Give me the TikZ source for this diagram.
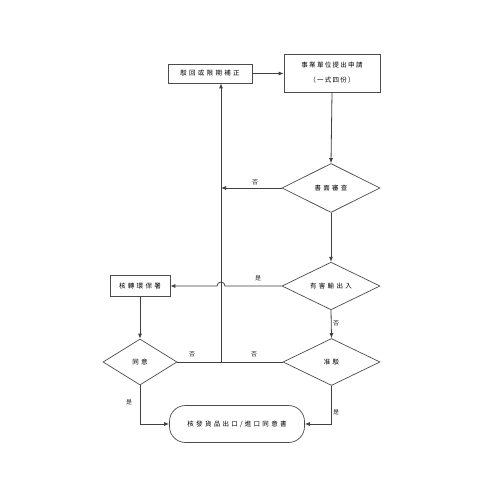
\documentclass[tikz,border=0pt]{standalone}
\usepackage{fontspec}
\newfontfamily\cjk[LetterSpace=35]{Noto Sans CJK TC}
\newfontfamily\cjktight[LetterSpace=20]{Noto Sans CJK TC}
\usetikzlibrary{arrows.meta,shapes.geometric}
\tikzset{
  ln/.style={draw=black!75, line width=0.8pt},
  arr/.style={ln, -{Latex[length=5pt,width=4pt]}},
  box/.style={draw=black!70, line width=0.7pt, rectangle, inner sep=0pt, align=center,
    font=\cjk\fontsize{6.5}{8}\selectfont},
  dia/.style={draw=black!70, line width=0.7pt, diamond, inner sep=0pt, align=center,
    font=\cjk\fontsize{6.5}{8}\selectfont},
  term/.style={draw=black!70, line width=0.7pt, rectangle, rounded corners=16pt, inner sep=0pt,
    align=center, font=\cjk\fontsize{6.5}{8}\selectfont},
  lab/.style={inner sep=0pt, font=\cjk\fontsize{6}{7}\selectfont, text=black!85},
}
\begin{document}
\begin{tikzpicture}[x=1pt,y=-1pt]
\useasboundingbox[fill=white] (0,0) rectangle (500,500);
\node[box, minimum width=84pt, minimum height=19pt] (rej) at (210,73.5) {駁回或限期補正};
\node[box, minimum width=96pt, minimum height=38pt, font=\cjktight\fontsize{6.5}{15}\selectfont] (app) at (332,73) {事業單位提出申請\\（一式四份）};
\node[dia, minimum width=98pt, minimum height=49pt] (d1) at (331,188) {書面審查};
\node[dia, minimum width=98pt, minimum height=46pt] (d2) at (331,286) {有害輸出入};
\node[box, minimum width=60pt, minimum height=21pt] (tr) at (140,286) {核轉環保署};
\node[dia, minimum width=74pt, minimum height=46pt] (agree) at (140,362) {同意};
\node[dia, minimum width=97pt, minimum height=47pt] (appr) at (331.5,362) {准駁};
\node[term, minimum width=135pt, minimum height=37pt] (fin) at (237,424) {核發貨品出口/進口同意書};
\coordinate (J) at (221,362);
\coordinate (H) at (225,0);
% connectors
\draw[arr] (rej.east) -- (app.west |- rej.east);
\draw[arr] (app.south) -- (d1.north);
\draw[arr] (d1.south) -- (d2.north);
\draw[arr] (d1.west) -- (d1.west -| J);
\draw[arr] (J) -- (J |- rej.south);
\draw[ln] (agree.east) -- (J);
\draw[ln] (appr.west) -- (J);
\draw[arr] (d2.west) -- (d2.west -| H) arc[start angle=0, end angle=180, radius=4pt] -- (tr.east);
\draw[arr] (d2.south) -- (appr.north);
\draw[arr] (tr.south) -- (agree.north);
\draw[arr] (agree.south) |- (fin.west);
\draw[arr] (appr.south) |- (fin.east);
% labels
\node[lab] (l1) at (255,182) {否};
\node[lab] (l2) at (258,278) {是};
\node[lab] (l3) at (336,323) {否};
\node[lab] (l4) at (192,354) {否};
\node[lab] (l5) at (254,354) {否};
\node[lab] (l6) at (129,402) {是};
\node[lab] (l7) at (336,412) {是};
\end{tikzpicture}
\end{document}
